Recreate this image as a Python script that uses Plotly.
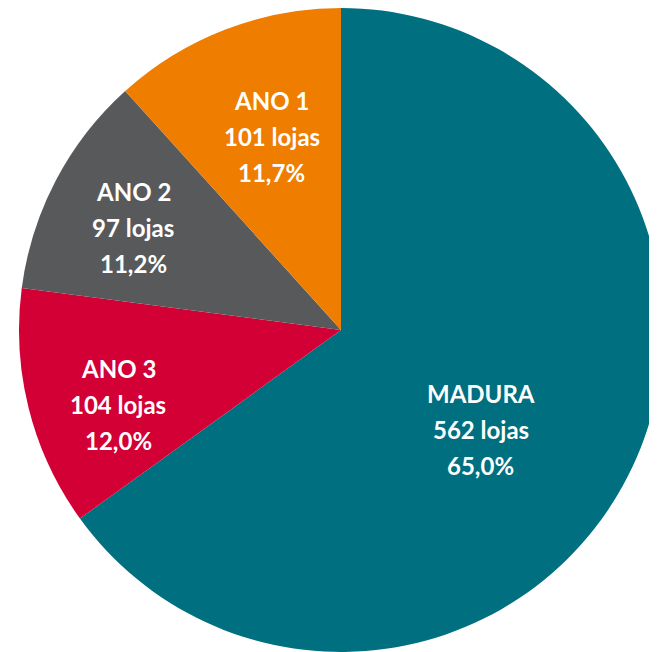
import math
import plotly.graph_objects as go

categories = ["MADURA", "ANO 3", "ANO 2", "ANO 1"]
lojas = [562, 104, 97, 101]
percent_labels = ["65,0%", "12,0%", "11,2%", "11,7%"]
colors = ["#006F80", "#D20035", "#58595B", "#EF7D00"]

# label placement style (radial fraction, angular nudge in degrees)
label_radius = [0.533, 0.73, 0.72, 0.637]
label_angle_shift = [8.3, -4.3, -1.4, 1.3]

W, H = 657, 652
ml, mr, mt, mb = 11, 2, 0, 8
pw, ph = W - ml - mr, H - mt - mb
R = min(pw, ph) / 2

fig = go.Figure(go.Pie(
    labels=categories, values=lojas, sort=False, direction="clockwise",
    rotation=0, marker=dict(colors=colors, line=dict(width=0)),
    textinfo="none", hoverinfo="label+value+percent", showlegend=False,
))

total = sum(lojas)
cum = 0
annotations = []
font = dict(family="Lato", size=24, color="white")
for cat, v, pct, rf, sh in zip(categories, lojas, percent_labels,
                               label_radius, label_angle_shift):
    mid = math.radians((cum + v / 2) / total * 360 + sh)
    cum += v
    dx = rf * R * math.sin(mid)
    dy = rf * R * math.cos(mid)
    x = 0.5 + dx / pw
    y = 0.5 + dy / ph
    lines = [f"<b>{cat}</b>", f"<b>{v} lojas</b>", f"<b>{pct}</b>"]
    for i, t in enumerate(lines):
        annotations.append(dict(x=x, y=y, xref="paper", yref="paper", text=t,
                                showarrow=False, font=font,
                                xanchor="center", yanchor="middle",
                                yshift=(1 - i) * 36))

fig.update_layout(width=W, height=H, margin=dict(l=ml, r=mr, t=mt, b=mb),
                  paper_bgcolor="white", plot_bgcolor="white",
                  annotations=annotations)
fig.write_html("out.html")
